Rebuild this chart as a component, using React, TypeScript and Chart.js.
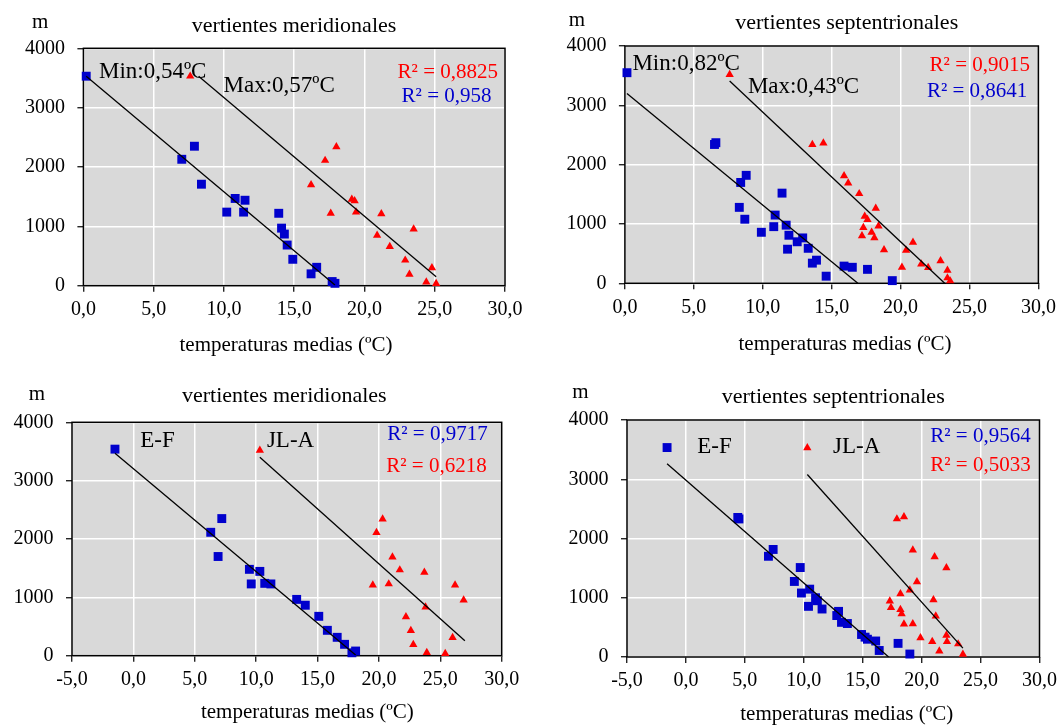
import React, { useEffect, useRef } from 'react';
import { Chart, registerables } from 'chart.js';
Chart.register(...registerables);

const FONT = '"Liberation Serif", "Times New Roman", Times, serif';
const BLUE = '#0000cc';
const RED = '#ff0000';
const PLOT_BG = '#d9d9d9';

// ---------- tick values ----------
const Y_TICK_MIN = 0;
const Y_TICK_MAX = 4000;
const Y_TICK_STEP = 1000;
const X_TICK_STEP = 5;
const X_MAX = 30;

// ---------- Panel 1: vertientes meridionales (Min / Max) ----------
const P1_MIN_X = [0.2, 7.9, 7.0, 8.4, 10.8, 11.5, 10.2, 11.4, 13.9, 14.1, 14.3, 14.5, 14.9, 16.2, 16.6, 17.7, 17.9];
const P1_MIN_Y = [3530, 2350, 2130, 1710, 1470, 1440, 1240, 1240, 1220, 970, 870, 685, 445, 200, 310, 70, 40];
const P1_MAX_X = [7.6, 18.0, 17.2, 16.2, 19.1, 19.3, 19.4, 17.6, 21.2, 23.5, 20.9, 21.8, 22.9, 23.2, 24.8, 24.4, 25.1];
const P1_MAX_Y = [3530, 2340, 2110, 1700, 1455, 1430, 1240, 1220, 1210, 955, 850, 660, 430, 190, 300, 60, 35];
const P1_MIN_TREND_X = [0.2, 17.9];
const P1_MIN_TREND_Y = [3530, 10];
const P1_MAX_TREND_X = [8.2, 25.1];
const P1_MAX_TREND_Y = [3530, 150];

// ---------- Panel 2: vertientes septentrionales (Min / Max) ----------
const P2_MIN_X = [0.15, 6.5, 6.6, 8.8, 8.4, 11.4, 8.3, 8.7, 10.9, 11.7, 10.8, 9.9, 11.9, 12.9, 12.5, 13.3, 11.8, 13.9, 13.6, 14.6, 15.9, 16.5, 17.6, 19.4];
const P2_MIN_Y = [3550, 2340, 2370, 1820, 1700, 1520, 1280, 1080, 1150, 980, 955, 860, 810, 765, 700, 590, 575, 390, 340, 120, 290, 270, 235, 45];
const P2_MAX_X = [7.6, 13.6, 14.4, 15.9, 16.2, 17.0, 18.2, 17.4, 17.6, 18.4, 17.3, 17.9, 17.2, 18.1, 18.8, 20.9, 20.4, 20.1, 21.5, 22.0, 22.9, 23.4, 23.4, 23.6];
const P2_MAX_Y = [3520, 2340, 2365, 1810, 1690, 1510, 1265, 1130, 1075, 965, 940, 860, 800, 765, 565, 690, 555, 270, 325, 265, 380, 220, 90, 40];
const P2_MIN_TREND_X = [0.15, 16.9];
const P2_MIN_TREND_Y = [3200, 0];
const P2_MAX_TREND_X = [7.6, 23.2];
const P2_MAX_TREND_Y = [3410, 0];

// ---------- Panel 3: vertientes meridionales (E-F / JL-A) ----------
const P3_EF_X = [-1.5, 7.2, 6.3, 6.9, 9.45, 10.3, 9.6, 10.7, 11.2, 13.3, 14.0, 15.1, 15.8, 16.6, 17.2, 17.8, 18.1];
const P3_EF_Y = [3540, 2350, 2115, 1700, 1480, 1445, 1230, 1240, 1230, 965, 865, 675, 435, 315, 195, 50, 80];
const P3_JLA_X = [10.3, 20.3, 19.8, 21.1, 21.7, 23.7, 19.5, 20.8, 26.2, 26.9, 23.8, 22.2, 22.6, 22.8, 26.0, 23.9, 25.4];
const P3_JLA_Y = [3520, 2340, 2110, 1690, 1470, 1430, 1210, 1230, 1210, 955, 835, 665, 430, 190, 310, 55, 35];
const P3_EF_TREND_X = [-1.5, 18.1];
const P3_EF_TREND_Y = [3470, 10];
const P3_JLA_TREND_X = [10.3, 27.0];
const P3_JLA_TREND_Y = [3400, 255];

// ---------- Panel 4: vertientes septentrionales (E-F / JL-A) ----------
const P4_EF_X = [-1.6, 4.4, 4.5, 7.4, 7.0, 9.7, 9.2, 9.8, 10.5, 11.0, 11.15, 10.4, 11.55, 12.95, 12.8, 13.2, 13.7, 14.9, 15.2, 15.4, 16.1, 16.4, 18.0, 19.0];
const P4_EF_Y = [3535, 2355, 2330, 1815, 1700, 1510, 1275, 1080, 1145, 1000, 950, 855, 810, 770, 700, 585, 565, 380, 335, 300, 270, 110, 230, 50];
const P4_JLA_X = [10.3, 17.9, 18.5, 19.25, 21.1, 22.1, 19.6, 19.0, 18.2, 21.0, 17.3, 17.4, 18.2, 18.3, 21.2, 18.5, 19.25, 19.9, 20.9, 22.1, 22.15, 23.1, 21.5, 23.5];
const P4_JLA_Y = [3530, 2330, 2365, 1805, 1690, 1505, 1270, 1130, 1065, 965, 945, 835, 800, 730, 690, 555, 560, 325, 260, 365, 260, 220, 100, 45];
const P4_EF_TREND_X = [-1.6, 17.2];
const P4_EF_TREND_Y = [3260, 0];
const P4_JLA_TREND_X = [10.3, 23.5];
const P4_JLA_TREND_Y = [3080, 150];

// ---------- texts ----------
const TITLE_MERID = 'vertientes meridionales';
const TITLE_SEPT = 'vertientes septentrionales';
const Y_UNIT = 'm';
const X_TITLE = 'temperaturas medias (ºC)';

type Txt = { text: string; x: number; y: number; size: number; color: string; align: CanvasTextAlign };
type Spec = {
  id: string;
  box: { x: number; y: number; w: number; h: number };
  plot: { l: number; t: number; r: number; b: number };
  xMin: number;
  sqX: number[]; sqY: number[];
  trX: number[]; trY: number[];
  sqTrendX: number[]; sqTrendY: number[];
  trTrendX: number[]; trTrendY: number[];
  behind: Txt[];
  front: Txt[];
};

const T = (text: string, x: number, y: number, size: number, color: string, align: CanvasTextAlign): Txt => ({ text, x, y, size, color, align });

const SPECS: Spec[] = [
  {
    id: 'p1',
    box: { x: 0, y: 0, w: 531, h: 365 },
    plot: { l: 83.4, t: 48.3, r: 505, b: 285.7 },
    xMin: 0,
    sqX: P1_MIN_X, sqY: P1_MIN_Y, trX: P1_MAX_X, trY: P1_MAX_Y,
    sqTrendX: P1_MIN_TREND_X, sqTrendY: P1_MIN_TREND_Y, trTrendX: P1_MAX_TREND_X, trTrendY: P1_MAX_TREND_Y,
    behind: [
      T('Min:0,54ºC', 99, 77.7, 23, '#000', 'left'),
      T('Max:0,57ºC', 223.5, 92.3, 23, '#000', 'left'),
      T('R² = 0,8825', 498, 78, 21, RED, 'right'),
      T('R² = 0,958', 491.5, 102, 21, BLUE, 'right'),
    ],
    front: [
      T(Y_UNIT, 32, 28, 21, '#000', 'left'),
      T(TITLE_MERID, 294, 32, 22, '#000', 'center'),
      T(X_TITLE, 286, 351, 21, '#000', 'center'),
    ],
  },
  {
    id: 'p2',
    box: { x: 531, y: 0, w: 532, h: 365 },
    plot: { l: 624.9, t: 46, r: 1038.4, b: 283.3 },
    xMin: 0,
    sqX: P2_MIN_X, sqY: P2_MIN_Y, trX: P2_MAX_X, trY: P2_MAX_Y,
    sqTrendX: P2_MIN_TREND_X, sqTrendY: P2_MIN_TREND_Y, trTrendX: P2_MAX_TREND_X, trTrendY: P2_MAX_TREND_Y,
    behind: [
      T('Min:0,82ºC', 632.4, 70, 23, '#000', 'left'),
      T('Max:0,43ºC', 747.9, 92.7, 23, '#000', 'left'),
      T('R² = 0,9015', 1030, 71, 21, RED, 'right'),
      T('R² = 0,8641', 1027.3, 96.7, 21, BLUE, 'right'),
    ],
    front: [
      T(Y_UNIT, 568.8, 26, 21, '#000', 'left'),
      T(TITLE_SEPT, 846.7, 28.5, 22, '#000', 'center'),
      T(X_TITLE, 845, 349.5, 21, '#000', 'center'),
    ],
  },
  {
    id: 'p3',
    box: { x: 0, y: 365, w: 531, h: 360 },
    plot: { l: 72, t: 422.3, r: 501.7, b: 655.7 },
    xMin: -5,
    sqX: P3_EF_X, sqY: P3_EF_Y, trX: P3_JLA_X, trY: P3_JLA_Y,
    sqTrendX: P3_EF_TREND_X, sqTrendY: P3_EF_TREND_Y, trTrendX: P3_JLA_TREND_X, trTrendY: P3_JLA_TREND_Y,
    behind: [
      T('E-F', 140.2, 446.7, 23, '#000', 'left'),
      T('JL-A', 266.9, 447.3, 23, '#000', 'left'),
      T('R² = 0,9717', 487.7, 440, 21, BLUE, 'right'),
      T('R² = 0,6218', 486.7, 472, 21, RED, 'right'),
    ],
    front: [
      T(Y_UNIT, 28.7, 400, 21, '#000', 'left'),
      T(TITLE_MERID, 284.3, 401.7, 22, '#000', 'center'),
      T(X_TITLE, 307.4, 718.3, 21, '#000', 'center'),
    ],
  },
  {
    id: 'p4',
    box: { x: 531, y: 365, w: 532, h: 360 },
    plot: { l: 627, t: 420, r: 1041, b: 657 },
    xMin: -5,
    sqX: P4_EF_X, sqY: P4_EF_Y, trX: P4_JLA_X, trY: P4_JLA_Y,
    sqTrendX: P4_EF_TREND_X, sqTrendY: P4_EF_TREND_Y, trTrendX: P4_JLA_TREND_X, trTrendY: P4_JLA_TREND_Y,
    behind: [
      T('E-F', 697.2, 453.3, 23, '#000', 'left'),
      T('JL-A', 833, 453.3, 23, '#000', 'left'),
      T('R² = 0,9564', 1030.7, 442.3, 21, BLUE, 'right'),
      T('R² = 0,5033', 1030.7, 471, 21, RED, 'right'),
    ],
    front: [
      T(Y_UNIT, 572.2, 398.3, 21, '#000', 'left'),
      T(TITLE_SEPT, 833.2, 402.5, 22, '#000', 'center'),
      T(X_TITLE, 846.7, 720, 21, '#000', 'center'),
    ],
  },
];

const zip = (xs: number[], ys: number[]) => xs.map((x, i) => ({ x, y: ys[i] }));

function drawTexts(ctx: CanvasRenderingContext2D, list: Txt[], ox: number, oy: number) {
  ctx.save();
  ctx.textBaseline = 'alphabetic';
  for (const t of list) {
    ctx.font = `${t.size}px ${FONT}`;
    ctx.fillStyle = t.color;
    ctx.textAlign = t.align;
    ctx.fillText(t.text, t.x - ox, t.y - oy);
  }
  ctx.restore();
}

function Panel({ spec }: { spec: Spec }) {
  const ref = useRef<HTMLCanvasElement>(null);
  useEffect(() => {
    const canvas = ref.current;
    if (!canvas) return;
    const { box, plot } = spec;
    const Wy = plot.l - box.x;
    const Hx = 40;
    const padding = {
      left: 0,
      top: plot.t - box.y,
      right: box.x + box.w - plot.r,
      bottom: box.y + box.h - plot.b - Hx,
    };
    const decor = {
      id: 'decor_' + spec.id,
      beforeDraw(chart: any) {
        const { ctx, chartArea: a } = chart;
        ctx.save();
        ctx.fillStyle = PLOT_BG;
        ctx.fillRect(a.left, a.top, a.right - a.left, a.bottom - a.top);
        ctx.restore();
      },
      beforeDatasetsDraw(chart: any) {
        const { ctx, chartArea: a } = chart;
        ctx.save();
        ctx.strokeStyle = '#000';
        ctx.lineWidth = 1.5;
        ctx.strokeRect(a.left, a.top, a.right - a.left, a.bottom - a.top);
        ctx.restore();
        drawTexts(ctx, spec.behind, box.x, box.y);
      },
      afterDraw(chart: any) {
        drawTexts(chart.ctx, spec.front, box.x, box.y);
      },
    };
    const tickFont = { family: FONT, size: 20 };
    const chart = new Chart(canvas, {
      type: 'scatter',
      data: {
        datasets: [
          {
            type: 'line',
            data: zip(spec.sqTrendX, spec.sqTrendY),
            borderColor: '#000',
            borderWidth: 1.3,
            pointRadius: 0,
            showLine: true,
            fill: false,
            tension: 0,
          } as any,
          {
            type: 'line',
            data: zip(spec.trTrendX, spec.trTrendY),
            borderColor: '#000',
            borderWidth: 1.3,
            pointRadius: 0,
            showLine: true,
            fill: false,
            tension: 0,
          } as any,
          {
            data: zip(spec.sqX, spec.sqY),
            pointStyle: 'rect',
            pointRadius: 6.3,
            backgroundColor: BLUE,
            borderColor: BLUE,
            borderWidth: 0,
            clip: false,
          } as any,
          {
            data: zip(spec.trX, spec.trY),
            pointStyle: 'triangle',
            pointRadius: 4.8,
            backgroundColor: RED,
            borderColor: RED,
            borderWidth: 0,
            clip: false,
          } as any,
        ],
      },
      options: {
        responsive: false,
        animation: false,
        events: [],
        layout: { padding },
        plugins: {
          legend: { display: false },
          tooltip: { enabled: false },
          title: { display: false },
        },
        scales: {
          x: {
            type: 'linear',
            min: spec.xMin,
            max: X_MAX,
            afterFit: (s: any) => { s.height = Hx; },
            ticks: {
              stepSize: X_TICK_STEP,
              autoSkip: false,
              maxRotation: 0,
              padding: 6,
              color: '#000',
              font: tickFont,
              callback: (v: any) => Number(v).toFixed(1).replace('.', ','),
            },
            grid: { color: '#ffffff', lineWidth: 1.5, tickColor: '#000', tickLength: 6, tickWidth: 1.2 },
            border: { display: false },
          },
          y: {
            type: 'linear',
            min: Y_TICK_MIN,
            max: Y_TICK_MAX,
            afterFit: (s: any) => { s.width = Wy; },
            ticks: {
              stepSize: Y_TICK_STEP,
              padding: 12.5,
              color: '#000',
              font: tickFont,
              callback: (v: any) => String(v),
            },
            grid: { color: '#ffffff', lineWidth: 1.5, tickColor: '#000', tickLength: 6, tickWidth: 1.2 },
            border: { display: false },
          },
        },
      } as any,
      plugins: [decor],
    });
    return () => chart.destroy();
  }, [spec]);
  const { box } = spec;
  return (
    <canvas
      ref={ref}
      width={box.w}
      height={box.h}
      style={{ position: 'absolute', left: box.x, top: box.y, width: box.w, height: box.h, display: 'block' }}
    />
  );
}

export default function App() {
  return (
    <div>
      {SPECS.map((s) => (
        <Panel key={s.id} spec={s} />
      ))}
    </div>
  );
}
